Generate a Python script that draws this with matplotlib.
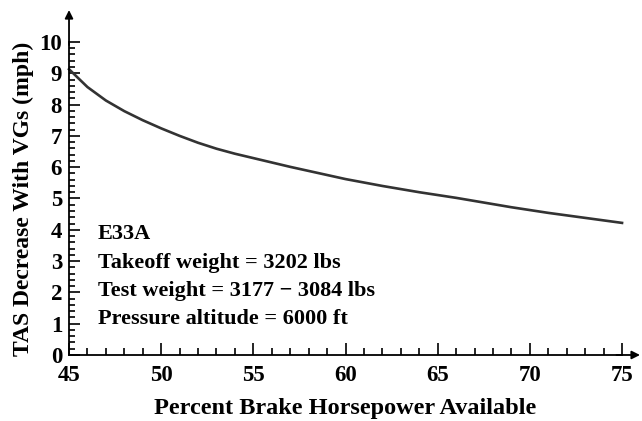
import matplotlib.pyplot as plt
from matplotlib.ticker import MultipleLocator

# values
bhp_percent = [45, 46, 47, 48, 49, 50, 51, 52, 53, 54, 55, 56, 57, 58, 59, 60,
               61, 62, 63, 64, 65, 66, 67, 68, 69, 70, 71, 72, 73, 74, 75]
tas_decrease = [9.13, 8.56, 8.13, 7.79, 7.5, 7.24, 7.0, 6.78, 6.59, 6.43, 6.29,
                6.15, 6.01, 5.88, 5.75, 5.62, 5.51, 5.4, 5.3, 5.2, 5.11, 5.02,
                4.92, 4.82, 4.72, 4.63, 4.54, 4.46, 4.38, 4.3, 4.22]

notes = ['E33A',
         'Takeoff weight = 3202 lbs',
         'Test weight = 3177 \u2212 3084 lbs',
         'Pressure altitude = 6000 ft']

plt.rcParams['font.family'] = ['Liberation Serif', 'DejaVu Serif']
plt.rcParams['font.weight'] = 'bold'

fig = plt.figure(figsize=(6.42, 4.21), dpi=100)
ax = fig.add_axes([0.1075, 0.1568, 0.8614, 0.7435])

ax.plot(bhp_percent, tas_decrease, color='#333333', linewidth=1.9, clip_on=False)

ax.set_xlim(45, 75)
ax.set_ylim(0, 10)
ax.xaxis.set_major_locator(MultipleLocator(5))
ax.xaxis.set_minor_locator(MultipleLocator(1))
ax.yaxis.set_major_locator(MultipleLocator(1))
ax.yaxis.set_minor_locator(MultipleLocator(0.2))

for side in ['top', 'right']:
    ax.spines[side].set_visible(False)
for side in ['left', 'bottom']:
    ax.spines[side].set_linewidth(1.3)

ax.tick_params(axis='both', which='both', direction='in', width=1.2, labelsize=16.5)
ax.tick_params(axis='x', which='major', length=9, pad=7)
ax.tick_params(axis='x', which='minor', length=5)
ax.tick_params(axis='y', which='major', length=8, pad=5)
ax.tick_params(axis='y', which='minor', length=4.5)

# axis arrows
ax.annotate('', xy=(1.0325, 0), xytext=(0.99, 0), xycoords='axes fraction',
            arrowprops=dict(arrowstyle='-|>', color='black', lw=1.3,
                            mutation_scale=12, shrinkA=0, shrinkB=0))
ax.annotate('', xy=(0, 1.102), xytext=(0, 0.99), xycoords='axes fraction',
            arrowprops=dict(arrowstyle='-|>', color='black', lw=1.3,
                            mutation_scale=12, shrinkA=0, shrinkB=0))

ax.set_xlabel('Percent Brake Horsepower Available', fontsize=17.5, fontweight='bold', labelpad=9)
ax.set_ylabel('TAS Decrease With VGs (mph)', fontsize=17, fontweight='bold', labelpad=4)

for i, line in enumerate(notes):
    ax.text(0.052, 0.385 - i * 0.09, line, transform=ax.transAxes,
            fontsize=16, fontweight='bold', va='center', ha='left')

fig.savefig('out.png', dpi=100)
